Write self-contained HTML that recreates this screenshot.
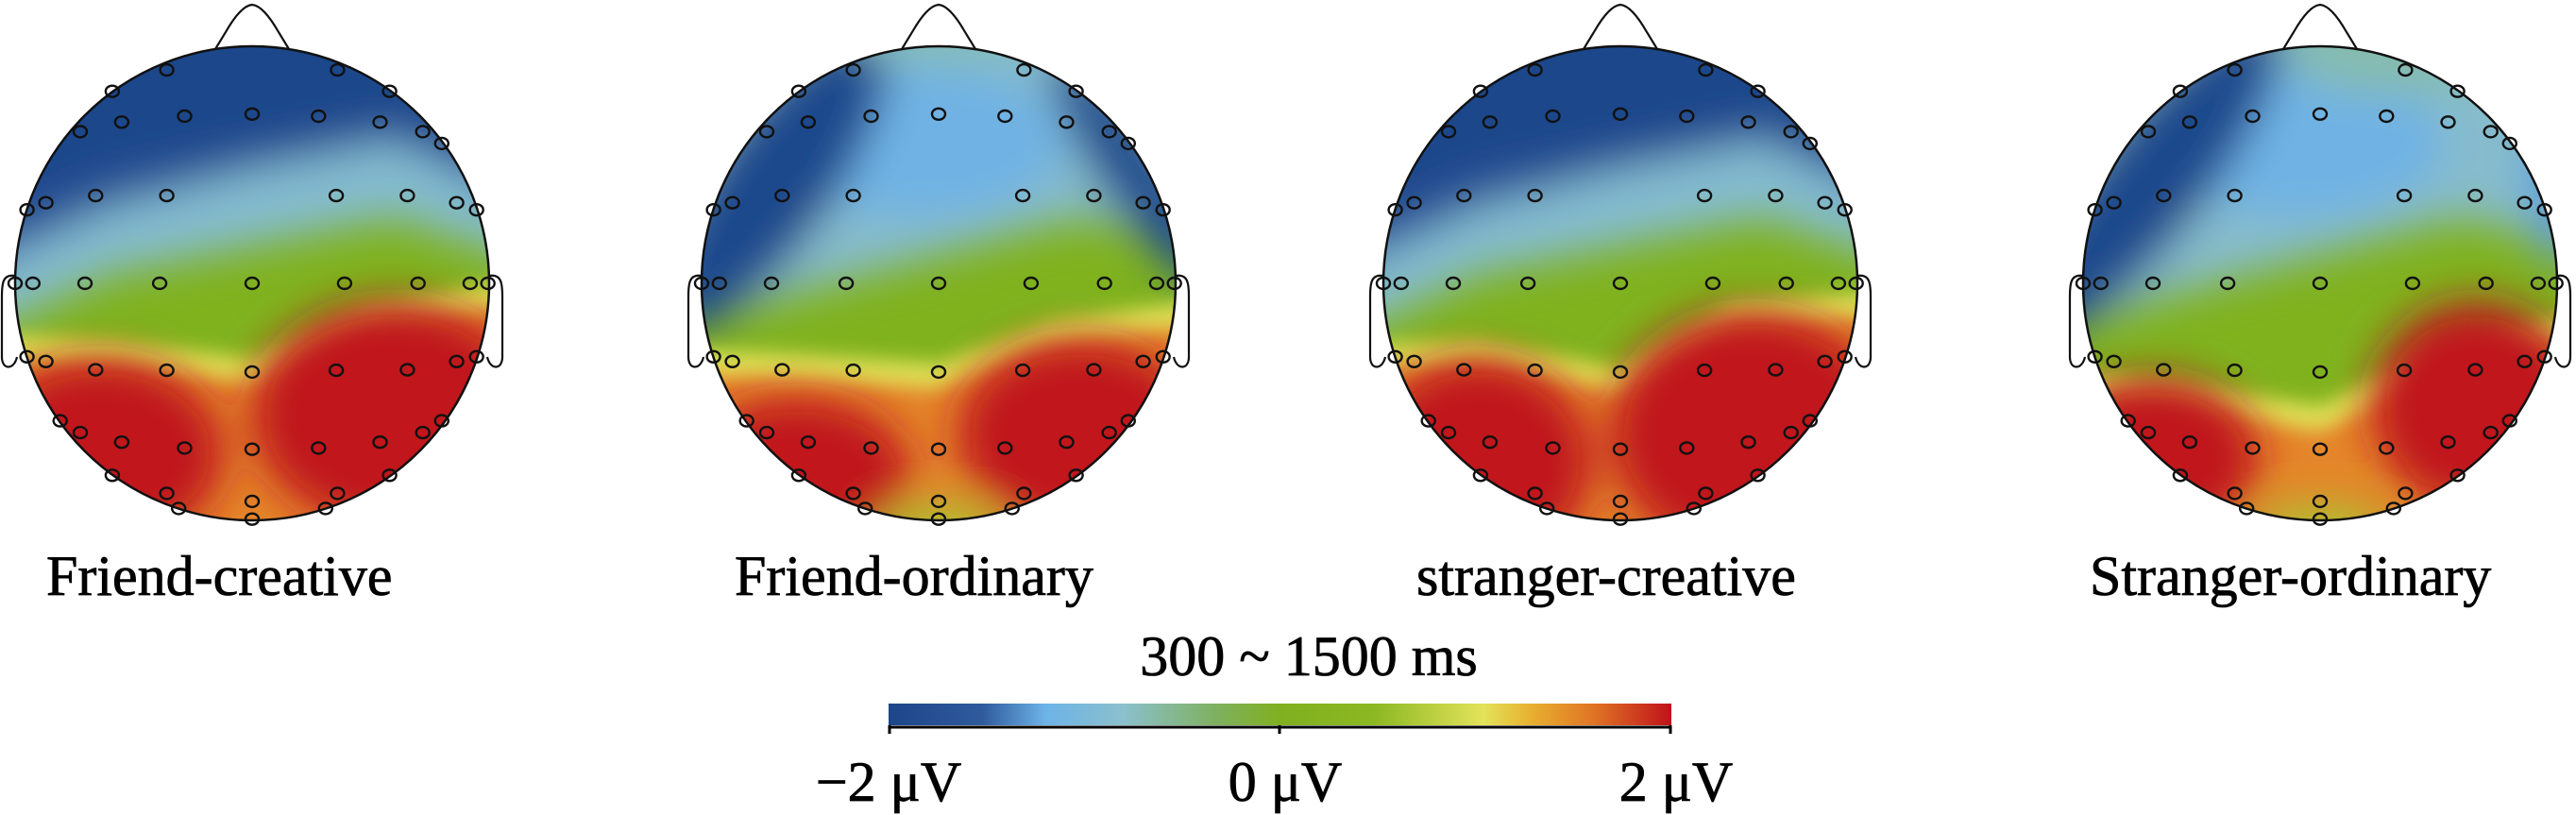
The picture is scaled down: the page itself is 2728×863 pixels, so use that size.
<!DOCTYPE html>
<html><head><meta charset="utf-8"><style>
html,body{margin:0;padding:0;background:#fff;width:2728px;height:863px;overflow:hidden}
svg{display:block}
.t{font-family:"Liberation Serif","Times New Roman",Times,"DejaVu Serif",serif;fill:#000;stroke:#000;stroke-width:0.8}
</style></head><body>
<svg id="s" width="2728" height="863" viewBox="0 0 2728 863" xmlns="http://www.w3.org/2000/svg">
<defs>
<filter id="b" x="-50%" y="-50%" width="200%" height="200%"><feGaussianBlur stdDeviation="22"/></filter>
<filter id="b2" x="-50%" y="-50%" width="200%" height="200%"><feGaussianBlur stdDeviation="10"/></filter>
<clipPath id="c"><circle cx="0" cy="0" r="251"/></clipPath>
<linearGradient id="cb" x1="0" x2="1" y1="0" y2="0">
<stop offset="0" stop-color="#1d468a"/><stop offset="0.12" stop-color="#2f5a9c"/>
<stop offset="0.2" stop-color="#6db3e8"/><stop offset="0.3" stop-color="#8bc0cc"/>
<stop offset="0.42" stop-color="#7fb05e"/><stop offset="0.5" stop-color="#80b020"/>
<stop offset="0.62" stop-color="#8cb822"/><stop offset="0.76" stop-color="#e3e35a"/>
<stop offset="0.82" stop-color="#e8b030"/><stop offset="0.9" stop-color="#e07525"/>
<stop offset="1" stop-color="#c0121a"/></linearGradient>
</defs>
<g id="heads"></g>
<g class="t" font-size="60">
<text x="49" y="630">Friend-creative</text>
<text x="778" y="630">Friend-ordinary</text>
<text x="1500" y="630">stranger-creative</text>
<text x="2213" y="630">Stranger-ordinary</text>
<text x="1386" y="715" text-anchor="middle">300 ~ 1500 ms</text>
<text x="941" y="848" text-anchor="middle">−2 μV</text>
<text x="1361" y="848" text-anchor="middle">0 μV</text>
<text x="1775" y="848" text-anchor="middle">2 μV</text>
</g>
<rect x="941" y="745" width="829" height="23" fill="url(#cb)"/>
<line x1="941" y1="770" x2="1770" y2="770" stroke="#000" stroke-width="3"/>
<line x1="942" y1="768" x2="942" y2="777" stroke="#000" stroke-width="3"/>
<line x1="1355" y1="768" x2="1355" y2="777" stroke="#000" stroke-width="3"/>
<line x1="1769" y1="768" x2="1769" y2="777" stroke="#000" stroke-width="3"/>
</svg>
<script>
var E=[[-.36,-.9],[.36,-.9],[-.59,-.81],[.58,-.81],[-.55,-.68],[-.285,-.705],[0,-.714],[.28,-.705],[.54,-.68],[-.725,-.64],[.72,-.64],[.8,-.59],[-.95,-.31],[-.87,-.34],[-.66,-.37],[-.36,-.37],[.355,-.37],[.655,-.37],[.863,-.34],[.947,-.31],[-1,0],[-.925,0],[-.705,0],[-.39,0],[0,0],[.39,0],[.7,0],[.92,0],[.995,0],[-.95,.31],[-.87,.33],[-.66,.365],[-.36,.367],[0,.374],[.355,.367],[.655,.365],[.863,.33],[.947,.31],[-.81,.58],[-.725,.63],[-.55,.67],[-.285,.695],[0,.7],[.28,.695],[.54,.67],[.72,.63],[.8,.58],[-.59,.81],[.58,.81],[-.36,.886],[.36,.886],[-.31,.95],[.31,.95],[0,.92],[0,.995]];
function P(pts,top){var s=top?"M-300,-300 L":"M-300,300 L";s+="-300,"+pts[0][1]+" ";pts.forEach(function(p){s+="L"+p[0]+","+p[1]+" "});s+="L300,"+pts[pts.length-1][1]+(top?" L300,-300Z":" L300,300Z");return s;}
var H=[
{cx:267,type:1,red:[[-160,180,130,100],[150,140,150,120]],ob:0,yc:[[-260,55],[-150,60],[0,80],[120,25],[260,0]]},
{cx:994,type:2,red:[[-150,200,120,80],[150,160,130,100]],ob:1,yc:[[-260,70],[-150,75],[0,85],[120,40],[260,20]]},
{cx:1716,type:1,red:[[-150,190,120,110],[140,160,150,130]],ob:0,yc:[[-260,65],[-150,60],[0,90],[120,20],[260,10]]},
{cx:2457,type:3,red:[[-175,185,110,85],[165,130,110,110]],ob:1,yc:[[-260,95],[-150,105],[0,130],[120,70],[260,35]]}];
var out="";
H.forEach(function(h){
 var g='<g transform="translate('+h.cx+',300)"><g clip-path="url(#c)">';
 g+='<rect x="-260" y="-260" width="520" height="520" fill="#80b21e"/><g filter="url(#b)">';
 if(h.type==1){
  g+='<path d="'+P([[-300,60],[-150,-10],[0,-40],[150,-70],[300,-20]],1)+'" fill="#84bcd0"/>';
  g+='<path d="'+P([[-300,-10],[-150,-80],[0,-120],[150,-150],[300,-80]],1)+'" fill="#2a5598"/>';
  g+='<path d="'+P([[-300,-60],[-150,-120],[0,-150],[150,-180],[300,-120]],1)+'" fill="#1d468a"/>';
 } else {
  g+='<path d="'+P([[-300,60],[-150,10],[0,-30],[150,-70],[300,-30]],1)+'" fill="#86bccc"/>';
  g+='<ellipse cx="-20" cy="-150" rx="150" ry="80" fill="#6fb2e4"/>';
  if(h.type==2){g+='<ellipse cx="-175" cy="-110" rx="65" ry="190" transform="rotate(35 -175 -110)" fill="#1f4a8c"/><ellipse cx="210" cy="-120" rx="40" ry="150" transform="rotate(-35 210 -120)" fill="#23508f"/><ellipse cx="0" cy="-260" rx="90" ry="30" fill="#86bcb8"/>';}
  else {g+='<ellipse cx="-180" cy="-110" rx="60" ry="210" transform="rotate(38 -180 -110)" fill="#1f4a8c"/><ellipse cx="80" cy="-250" rx="120" ry="50" fill="#86bcae"/><ellipse cx="250" cy="-110" rx="30" ry="90" fill="#5f9ed8"/>';}
 }
 g+='</g><g filter="url(#b2)"><path d="'+P(h.yc,0)+'" fill="#e0e055"/><path d="'+P(h.yc.map(function(p){return [p[0],p[1]+25]}),0)+'" fill="#e4862a"/></g><g filter="url(#b)">';
 h.red.forEach(function(r){g+='<ellipse cx="'+r[0]+'" cy="'+r[1]+'" rx="'+r[2]+'" ry="'+r[3]+'" fill="#c0121a"/>';});
 if(h.ob) g+='<ellipse cx="0" cy="262" rx="70" ry="25" fill="#a8c830"/>';
 g+='</g></g>';
 g+='<circle cx="0" cy="0" r="251" fill="none" stroke="#111" stroke-width="2.5"/>';
 g+='<path d="M-39,-248 L-28,-266 Q-12,-294 0,-295 Q12,-294 28,-266 L39,-248" fill="none" stroke="#111" stroke-width="2.2"/>';
 g+='<path d="M-251,-8 C-264,-10 -265,0 -265,14 L-265,78 C-265,92 -252,92 -249,78 M251,-8 C264,-10 265,0 265,14 L265,78 C265,92 252,92 249,78" fill="none" stroke="#111" stroke-width="2.2"/>';
 E.forEach(function(e){g+='<ellipse cx="'+(e[0]*251).toFixed(1)+'" cy="'+(e[1]*251).toFixed(1)+'" rx="7" ry="6" fill="none" stroke="#111" stroke-width="2.4"/>';});
 g+='</g>';out+=g;
});
document.getElementById("heads").innerHTML=out;
</script>
</body></html>
